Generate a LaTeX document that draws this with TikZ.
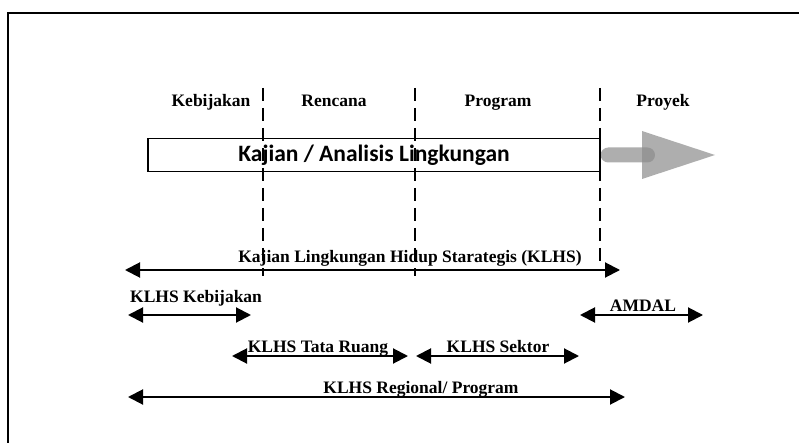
\documentclass[tikz,border=0pt]{standalone}
\usepackage{fontspec}
\setmainfont{Liberation Serif}
\newfontfamily\calfont{Carlito}
\usetikzlibrary{arrows.meta}

\begin{document}
\begin{tikzpicture}[x=1pt,y=-1pt]
	 \tikzstyle{phase} = [font=\fontsize{17.5}{19}\selectfont\bfseries, anchor=base]
	 \tikzstyle{label} = [font=\fontsize{17.5}{19}\selectfont\bfseries, anchor=base, inner sep=1pt]
	 \tikzstyle{divider} = [line width=1.3pt, dash pattern=on 13pt off 7pt]
	 \tikzstyle{span} = [line width=2pt, {Triangle[length=15pt,width=15pt]}-{Triangle[length=15pt,width=15pt]}]
	 \tikzstyle{flow} = [fill=black!45, opacity=0.7]

	\useasboundingbox (0,0) rectangle (799,443);
	\draw[line width=2pt] (8,443) -- (8,13) -- (799,13);

	% fase
	\node[phase] (kebijakan) at (211,107) {Kebijakan};
	\node[phase] (rencana) at (334,107) {Rencana};
	\node[phase] (program) at (498,107) {Program};
	\node[phase] (proyek) at (663,107) {Proyek};

	% kotak kajian
	\node[draw, line width=1.3pt, minimum width=452pt, minimum height=33pt, inner sep=0pt,
	      font=\calfont\bfseries\fontsize{23.5}{25}\selectfont] (kajian) at (374,155) {Kajian / Analisis Lingkungan};

	% panah abu-abu
	\fill[flow, rounded corners=7.5pt] (kajian.east |- 0,147.5) rectangle (655,162.5);
	\fill[flow] (642,131) -- (715,155) -- (642,179) -- cycle;

	% garis putus-putus
	\draw[divider] (263,88) -- (263,276);
	\draw[divider] (415,88) -- (415,276);
	\draw[divider] (600,88) -- (600,263);

	% rentang KLHS
	\coordinate (klhsL) at (125,270);   \coordinate (klhsR) at (620,270);
	\coordinate (kebL) at (128,315);    \coordinate (kebR) at (251,315);
	\coordinate (amdL) at (580,315);    \coordinate (amdR) at (703,315);
	\coordinate (trL) at (232,356);     \coordinate (trR) at (408,356);
	\coordinate (sekL) at (416,356);    \coordinate (sekR) at (579,356);
	\coordinate (regL) at (128,397);    \coordinate (regR) at (625,397);

	\draw[span] (klhsL) -- (klhsR);
	\draw[span] (kebL) -- (kebR);
	\draw[span] (amdL) -- (amdR);
	\draw[span] (trL) -- (trR);
	\draw[span] (sekL) -- (sekR);
	\draw[span] (regL) -- (regR);

	\node[label] (klhs) at (410,262) {Kajian Lingkungan Hidup Starategis (KLHS)};
	\node[label, anchor=base west] (klhskeb) at (129,302) {KLHS Kebijakan};
	\node[label] (amdal) at (643,311) {AMDAL};
	\node[label] (tataruang) at (318,352) {KLHS Tata Ruang};
	\node[label] (sektor) at (498,352) {KLHS Sektor};
	\node[label] (regional) at (421,393) {KLHS Regional/ Program};
\end{tikzpicture}
\end{document}
